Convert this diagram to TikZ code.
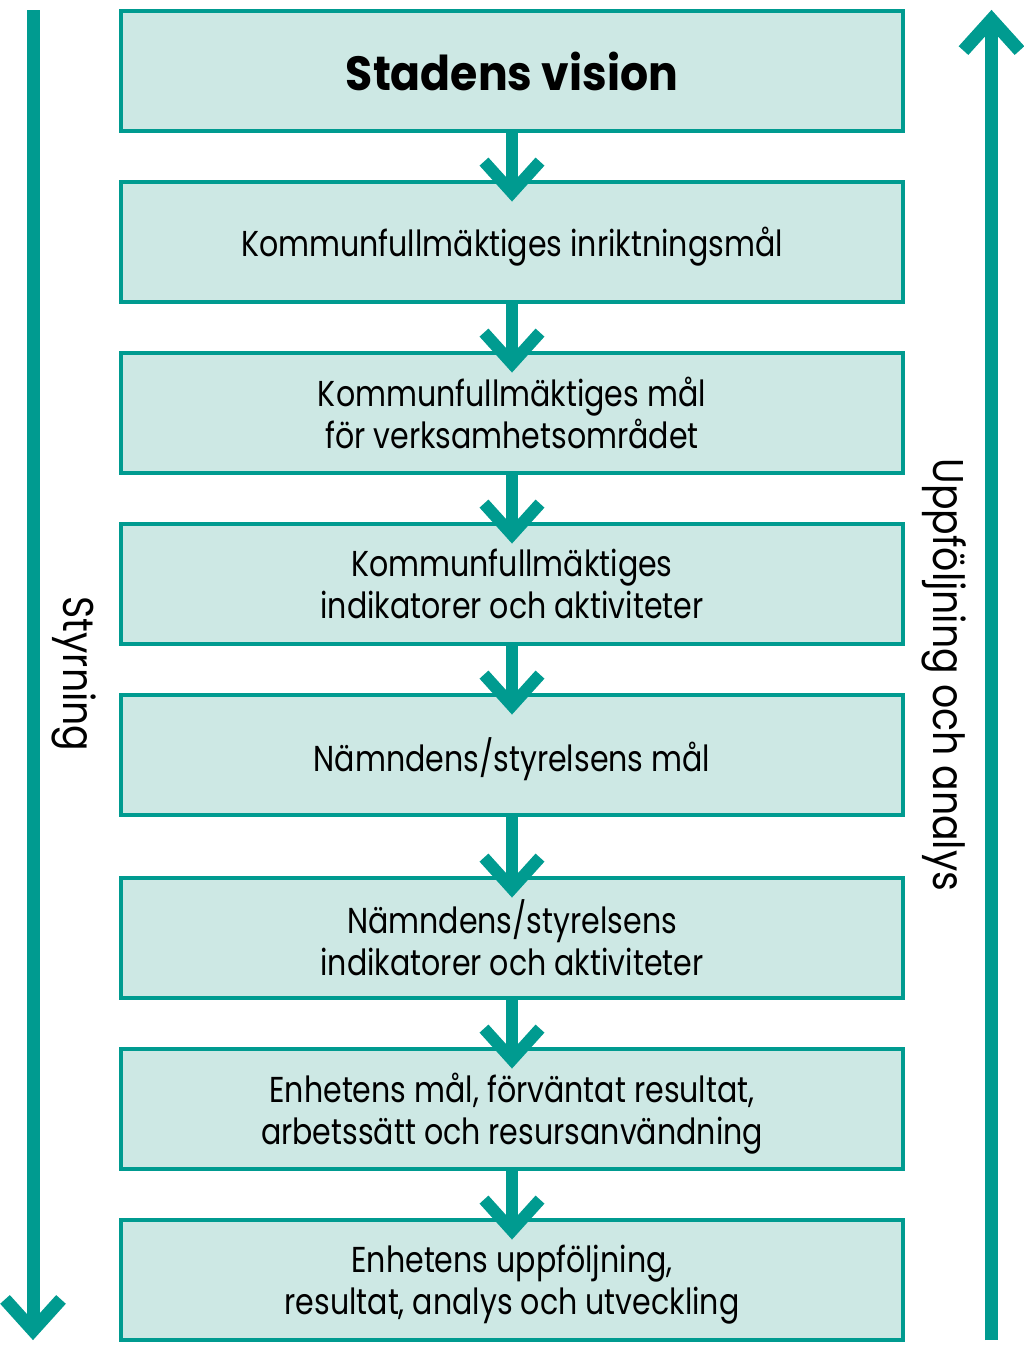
\documentclass[tikz,border=0pt]{standalone}
\usepackage{fontspec}
\setmainfont{Poppins}[FakeStretch=0.835]
\newfontfamily\visionfont{Poppins}[FakeStretch=0.92]
\newfontfamily\sidefont{Poppins}[FakeStretch=0.88]
\usepackage{xcolor}
\usepackage{tikz}
\usetikzlibrary{positioning}
\definecolor{stadteal}{RGB}{0,155,144}
\definecolor{stadfill}{RGB}{205,232,228}

\begin{document}
\begin{tikzpicture}[x=1pt,y=-1pt,
  box/.style={draw=stadteal, fill=stadfill, line width=4.3pt, minimum width=782pt,
    minimum height=120pt, inner sep=0pt, outer sep=0pt, align=center, text depth=0pt,
    font=\fontsize{36}{42}\selectfont},
  link/.style={stadteal, line width=12pt},
  chev/.style={stadteal, line width=12pt, line join=miter},
  side/.style={stadteal, line width=13pt, line join=miter},
  sidelabel/.style={rotate=-90, anchor=base, font=\sidefont\fontsize{43}{48}\selectfont}]
\useasboundingbox (0,0) rectangle (1024,1347);

% the eight levels
\node[box, font=\visionfont\bfseries\fontsize{48}{54}\selectfont] (vision) at (512,71) {Stadens vision};
\node[box, below=51pt of vision] (kfinr) {Kommunfullmäktiges inriktningsmål};
\node[box, below=51pt of kfinr] (kfmal) {Kommunfullmäktiges mål\\för verksamhetsområdet};
\node[box, below=51pt of kfmal] (kfind) {Kommunfullmäktiges\\indikatorer och aktiviteter};
\node[box, below=51pt of kfind] (nmal) {Nämndens/styrelsens mål};
\node[box, below=63pt of nmal] (nind) {Nämndens/styrelsens\\indikatorer och aktiviteter};
\node[box, below=51pt of nind] (enmal) {Enhetens mål, förväntat resultat,\\arbetssätt och resursanvändning};
\node[box, below=51pt of enmal] (enupp) {Enhetens uppföljning,\\resultat, analys och utveckling};

% arrows between the levels
\foreach \a/\b in {vision/kfinr, kfinr/kfmal, kfmal/kfind, kfind/nmal, nmal/nind, nind/enmal, enmal/enupp} {
  \coordinate (tip-\b) at ([yshift=-10.6pt]\b.north);
  \draw[link] (\a.south) -- (tip-\b);
  \draw[chev] (tip-\b) ++(-28,-31) -- (tip-\b) -- ++(28,-31);
}

% styrning, going down
\coordinate (styrtop) at (33,10);
\coordinate (styrtip) at (33,1330.4);
\draw[side] (styrtop) -- (styrtip);
\draw[side] (styrtip) ++(-28,-31) -- (styrtip) -- ++(28,-31);
\node[sidelabel] (styr) at (63,674) {Styrning};

% uppfoljning, going up
\coordinate (uppbot) at (991.5,1340);
\coordinate (upptip) at (991.5,19.6);
\draw[side] (uppbot) -- (upptip);
\draw[side] (upptip) ++(-28,31) -- (upptip) -- ++(28,31);
\node[sidelabel] (upp) at (933,675) {Uppföljning och analys};
\end{tikzpicture}
\end{document}
